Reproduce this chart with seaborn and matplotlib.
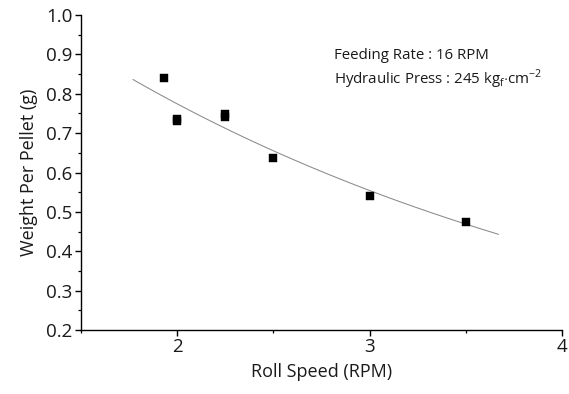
# Weight per pellet vs roll speed, with exponential fit line
import numpy as np
import pandas as pd
import matplotlib
matplotlib.use('Agg')
import matplotlib.pyplot as plt
import seaborn as sns
from matplotlib.ticker import MultipleLocator

# values
roll_speed = [1.93, 2.0, 2.0, 2.25, 2.25, 2.5, 3.0, 3.5]
weight = [0.840, 0.730, 0.736, 0.742, 0.748, 0.638, 0.541, 0.475]
fit_range = [1.77, 3.67]

sns.set_style('ticks')
plt.rcParams['font.family'] = ['Open Sans', 'DejaVu Sans']
plt.rcParams['mathtext.fontset'] = 'custom'
plt.rcParams['mathtext.rm'] = 'Open Sans'

df = pd.DataFrame({'Roll Speed': roll_speed, 'Weight': weight})

# exponential fit y = a*exp(b*x), done as a line fit on log(y)
b, ln_a = np.polyfit(df['Roll Speed'], np.log(df['Weight']), 1)
xf = np.linspace(fit_range[0], fit_range[1], 100)
df_fit = pd.DataFrame({'x': xf, 'y': np.exp(ln_a) * np.exp(b * xf)})

fig = plt.figure(figsize=(5.69, 3.94), dpi=100)
ax = fig.add_axes([0.1424, 0.1624, 0.8453, 0.7995])

sns.lineplot(x='x', y='y', data=df_fit, ax=ax, color='#8a8a8a', linewidth=0.75)
sns.scatterplot(x='Roll Speed', y='Weight', data=df, ax=ax, marker='s', s=28,
                color='black', edgecolor='black', linewidth=0.3, zorder=3)

ax.set_xlim(1.5, 4.0)
ax.set_ylim(0.2, 1.0)
ax.xaxis.set_major_locator(MultipleLocator(1))
ax.xaxis.set_minor_locator(MultipleLocator(0.5))
ax.yaxis.set_minor_locator(MultipleLocator(0.05))
ax.set_yticks(np.arange(0.2, 1.01, 0.1))
ax.set_yticklabels(['%.1f' % v for v in np.arange(0.2, 1.01, 0.1)])

txt = '#1a1a1a'
ax.tick_params(which='major', direction='out', length=4, width=1, color='black',
               labelsize=13.5, labelcolor=txt, pad=2)
ax.tick_params(which='minor', direction='out', length=2.3, width=0.9, color='black')
for s in ['left', 'bottom']:
    ax.spines[s].set_color('black')
    ax.spines[s].set_linewidth(1.0)
sns.despine(ax=ax)

ax.set_xlabel('Roll Speed (RPM)', fontsize=13, color=txt, labelpad=5)
ax.set_ylabel('Weight Per Pellet (g)', fontsize=13, color=txt, labelpad=6)

ax.text(0.526, 0.872, 'Feeding Rate : 16 RPM', transform=ax.transAxes,
        fontsize=10.8, color=txt, va='center')
ax.text(0.526, 0.796, r'Hydraulic Press : 245 kg$_\mathrm{f}$$\cdot$cm$^{-2}$',
        transform=ax.transAxes, fontsize=10.8, color=txt, va='center')

plt.savefig('out.png', dpi=100)
